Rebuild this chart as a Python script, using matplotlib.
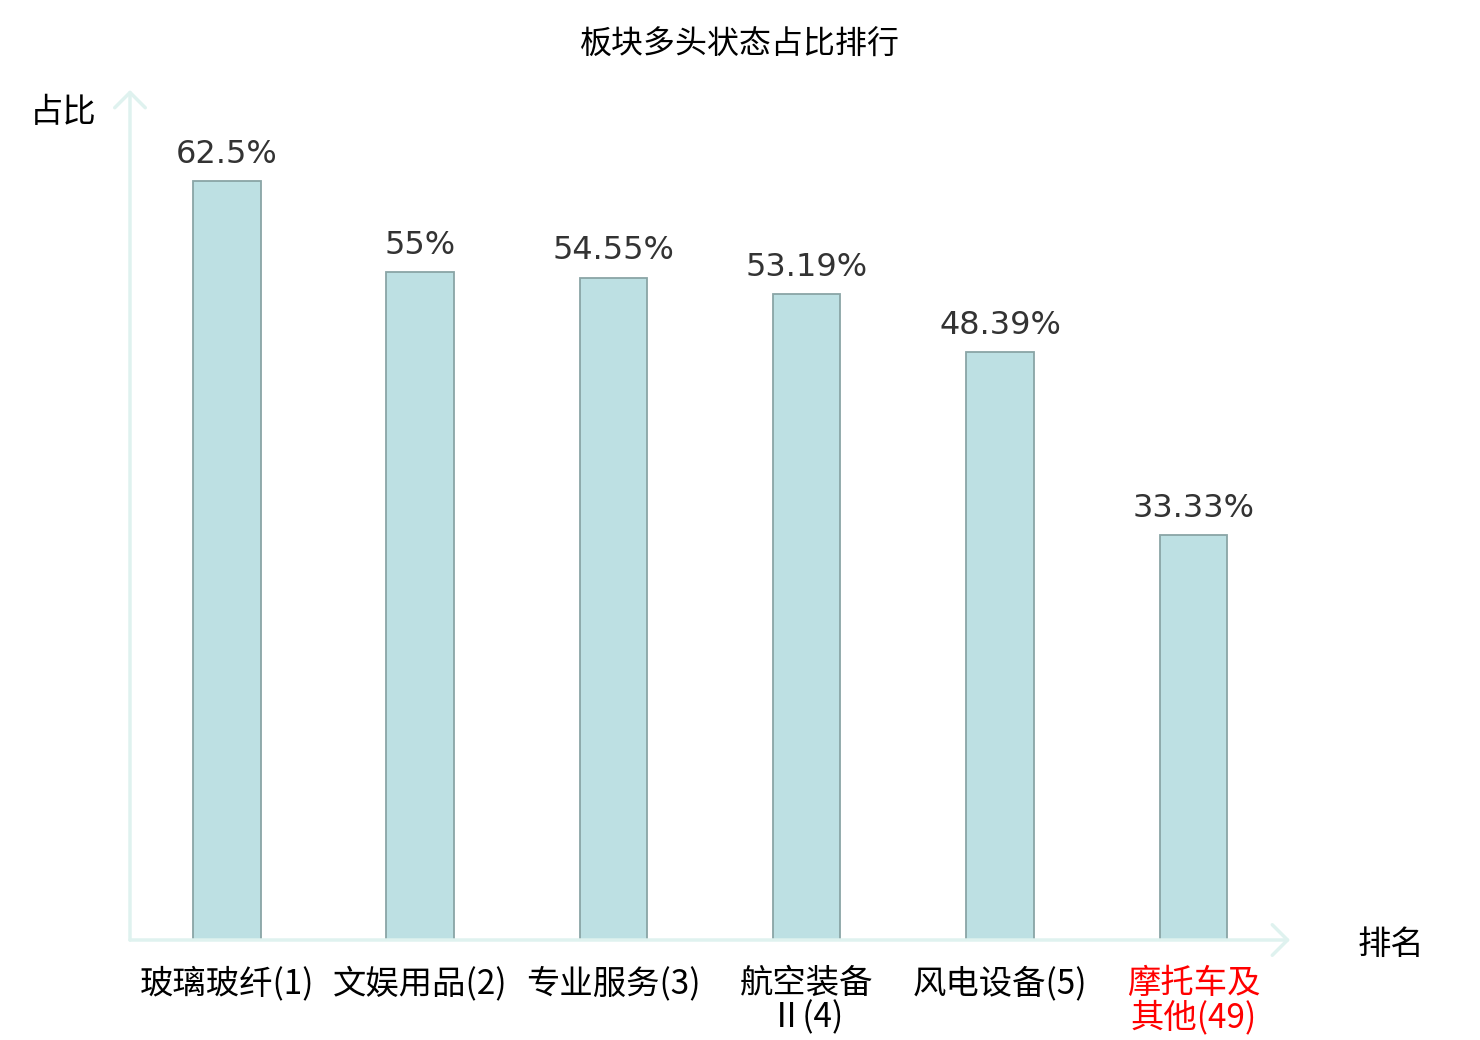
#!/usr/bin/env python3
"""Bar chart: share of sectors in a bullish state, top five plus one highlighted sector."""

import matplotlib.pyplot as plt

CJK = ["Noto Sans CJK SC", "DejaVu Sans"]
plt.rcParams["font.family"] = CJK

categories = ["玻璃玻纤(1)", "文娱用品(2)", "专业服务(3)", "航空装备\nⅡ(4)", "风电设备(5)", "摩托车及\n其他(49)"]
values = [62.5, 55.0, 54.55, 53.19, 48.39, 33.33]
value_labels = ["62.5%", "55%", "54.55%", "53.19%", "48.39%", "33.33%"]
highlight = [False, False, False, False, False, True]

AXIS_COLOR = "#dff2ef"

fig = plt.figure(figsize=(14.8, 10.4), dpi=100)
ax = fig.add_axes([130 / 1480, 100 / 1040, 1160 / 1480, 850 / 1040])

positions = list(range(len(categories)))
ax.bar(positions, values, width=0.35, color="#bde0e3", edgecolor="#8aa5a6", linewidth=1.3, zorder=2)

for x, v, label in zip(positions, values, value_labels):
    ax.annotate(label, (x, v), xytext=(0, 8), textcoords="offset points",
                ha="center", va="bottom", fontsize=23, color="#333333", family=["DejaVu Sans"])

ax.set_xlim(-0.5, 5.5)
ax.set_ylim(0, 70)
for side in ("top", "right", "left", "bottom"):
    ax.spines[side].set_visible(False)
ax.set_yticks([])
ax.set_xticks(positions)
ax.set_xticklabels(categories, fontsize=24, linespacing=0.95)
ax.tick_params(axis="x", length=0, pad=19)
for tick, red in zip(ax.get_xticklabels(), highlight):
    tick.set_color("red" if red else "black")

# axis lines with open arrow heads
arrow = dict(arrowstyle="->,head_length=0.5,head_width=0.5", color=AXIS_COLOR, lw=2.5, mutation_scale=22,
             shrinkA=0, shrinkB=0)
ax.annotate("", xy=(0, 1.0), xytext=(0, 0), xycoords="axes fraction", arrowprops=arrow, annotation_clip=False)
ax.annotate("", xy=(1.0, 0), xytext=(0, 0), xycoords="axes fraction", arrowprops=arrow, annotation_clip=False)

fig.text(740 / 1480, 1 - 45 / 1040, "板块多头状态占比排行", ha="center", va="center", fontsize=23, color="black")
fig.text(63 / 1480, 1 - 112 / 1040, "占比", ha="center", va="center", fontsize=24, color="black")
fig.text(1391 / 1480, 1 - 944 / 1040, "排名", ha="center", va="center", fontsize=24, color="black")

fig.savefig("out.png", dpi=100)
